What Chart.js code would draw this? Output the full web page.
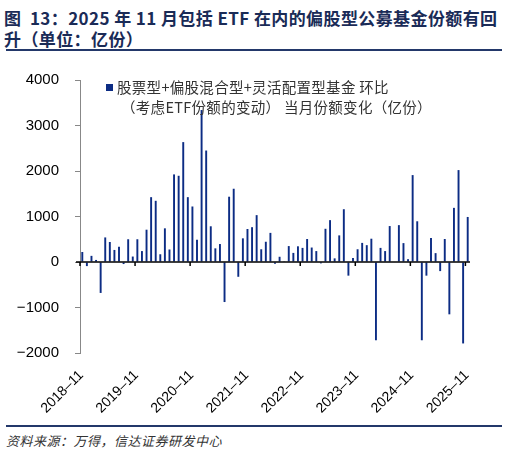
<!DOCTYPE html>
<html>
<head>
<meta charset="utf-8">
<script src="https://cdn.jsdelivr.net/npm/chart.js@4/dist/chart.umd.min.js"></script>
<style>
  body { margin: 0; background: #fff; width: 508px; height: 456px; position: relative; overflow: hidden; }
  .title { position: absolute; left: 4px; top: 7px; font: bold 17px "Noto Sans CJK SC", sans-serif; color: #1a2b57; line-height: 21px; letter-spacing: 0.4px; white-space: nowrap; }
  .rule { position: absolute; left: 6px; width: 496px; height: 2px; background: #23386a; }
  .legend { position: absolute; left: 106px; top: 77px; font: 14.5px "Noto Sans CJK SC", sans-serif; color: #333; line-height: 20px; white-space: nowrap; letter-spacing: 0.3px; }
  .legend .box { display: inline-block; width: 7px; height: 7px; background: #0c2c84; margin-right: 4px; vertical-align: 2px; }
  .legend .l2 { padding-left: 15px; }
  .source { position: absolute; left: 6px; top: 431px; font: italic 13px "Noto Sans CJK SC", sans-serif; color: #333; white-space: nowrap; letter-spacing: 0.5px; }
  #wrap { position: absolute; left: 0; top: 55px; width: 508px; height: 370px; }
</style>
</head>
<body>
<div class="title">图&nbsp;&nbsp;13：2025 年 11 月包括 ETF 在内的偏股型公募基金份额有回<br>升（单位：亿份）</div>
<div class="rule" style="top:49px"></div>
<div id="wrap"><canvas id="c"></canvas></div>
<div class="legend"><span class="box"></span>股票型+偏股混合型+灵活配置型基金 环比<br><span class="l2">（考虑ETF份额的变动）  当月份额变化（亿份）</span></div>
<div class="rule" style="top:425px"></div>
<div class="source">资料来源：万得，信达证券研发中心</div>
<script>
// months 2018-11 .. 2025-11
const months = [];
for (let y = 2018; y <= 2025; y++) {
  for (let m = 1; m <= 12; m++) {
    if ((y === 2018 && m < 11) || (y === 2025 && m > 11)) continue;
    months.push(y + '-' + String(m).padStart(2, '0'));
  }
}

// 当月份额变化（亿份）
const shareChange = [
  220, -90, 135, 45, -680, 540, 440, 265, 335, -45, 500, 120,
  500, 240, 710, 1425, 1345, 170, 740, 275, 1925, 1895, 2635, 1425,
  1220, 490, 3340, 2450, 785, 300, 395, -880, 1435, 1610, -325, 520,
  725, 765, 1030, 280, 445, 640, -40, 115, 5, 350, 200, 345,
  310, 505, 318, 240, -30, 730, 920, 80, 585, 1160, -300, 90,
  280, 420, 370, 512, -1720, 310, 240, 790, -12, 810, 415, 62,
  1910, 895, -1720, -300, 530, 195, -200, 505, -1150, 1190, 2020, -1790,
  990
];

const yTicks = [-2000, -1000, 0, 1000, 2000, 3000, 4000];

const zeroAxis = {
  id: 'zeroAxis',
  afterDatasetsDraw(chart) {
    const { ctx, chartArea, scales: { x, y } } = chart;
    const y0 = y.getPixelForValue(0);
    const half = (x.getPixelForValue(1) - x.getPixelForValue(0)) / 2;
    ctx.save();
    ctx.strokeStyle = '#000';
    ctx.lineWidth = 1.5;
    ctx.beginPath();
    ctx.moveTo(chartArea.left - 4, y0);
    ctx.lineTo(chartArea.right, y0);
    months.forEach((m, i) => {
      if (m.endsWith('-11')) {
        const px = x.getPixelForValue(i) - half;
        ctx.moveTo(px, y0);
        ctx.lineTo(px, y0 + 4);
      }
    });
    ctx.stroke();
    ctx.restore();
  }
};

new Chart(document.getElementById('c'), {
  type: 'bar',
  data: {
    labels: months,
    datasets: [{
      label: '股票型+偏股混合型+灵活配置型基金 环比（考虑ETF份额的变动） 当月份额变化（亿份）',
      data: shareChange,
      backgroundColor: '#0c2c84',
      borderWidth: 0,
      barPercentage: 0.42,
      categoryPercentage: 1
    }]
  },
  options: {
    responsive: true,
    maintainAspectRatio: false,
    animation: false,
    layout: { padding: { top: 25, right: 38, bottom: 10, left: 0 } },
    plugins: { legend: { display: false }, tooltip: { enabled: false } },
    scales: {
      x: {
        offset: true,
        grid: { display: false, drawTicks: false },
        border: { display: false },
        afterFit(scale) { scale.height = 62; },
        ticks: {
          autoSkip: false,
          maxRotation: 45,
          minRotation: 45,
          padding: 14,
          labelOffset: -1,
          color: '#000',
          font: { family: 'Liberation Sans', size: 14 },
          callback(v, i) { return months[i].endsWith('-11') ? months[i].replace('-', '\u2013') : ''; }
        }
      },
      y: {
        min: -2000,
        max: 4000,
        afterFit(scale) { scale.width = 80; },
        afterBuildTicks(scale) { scale.ticks = yTicks.map(v => ({ value: v })); },
        grid: { display: true, drawOnChartArea: false, drawTicks: true, tickLength: 5, tickColor: '#888' },
        border: { display: true, color: '#888', width: 1 },
        ticks: {
          padding: 16,
          color: '#000',
          font: { family: 'Liberation Sans', size: 15 },
          callback(v) { return v < 0 ? '\u2212' + Math.abs(v) : String(v); }
        }
      }
    }
  },
  plugins: [zeroAxis]
});
</script>
</body>
</html>
